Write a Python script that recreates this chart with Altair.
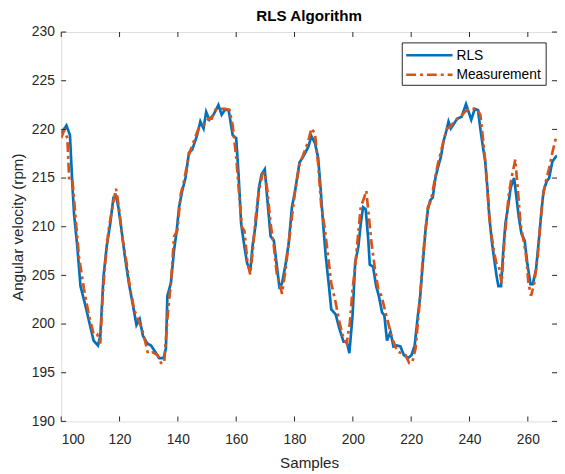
import altair as alt
import pandas as pd

# RLS estimate
rls_x = [100.0, 101.8, 103.0, 103.8, 104.4, 105.5, 106.6, 108.3, 110.0, 111.1, 112.6, 113.4, 114.5, 115.6,
         116.8, 117.9, 118.7, 119.6, 120.7, 121.8, 123.2, 124.6, 125.8, 126.9, 128.0, 129.5, 130.8, 132.3,
         133.6, 135.1, 135.9, 136.4, 137.6, 138.7, 139.6, 140.4, 141.5, 142.6, 143.8, 144.9, 146.6, 147.7,
         148.8, 149.7, 150.8, 152.2, 153.9, 155.0, 156.1, 157.4, 158.8, 160.0, 160.8, 161.7, 162.8, 163.7,
         164.8, 165.6, 166.7, 167.8, 168.7, 169.8, 170.7, 171.8, 172.9, 173.8, 174.9, 175.7, 176.8, 178.0,
         179.1, 180.2, 181.7, 183.0, 184.7, 185.8, 187.0, 188.1, 189.0, 189.8, 190.7, 191.8, 192.6, 194.1,
         195.4, 196.8, 197.9, 198.8, 199.9, 200.8, 201.9, 202.7, 203.5, 204.4, 205.3, 205.8, 206.9, 208.0,
         208.9, 210.0, 210.8, 211.7, 212.9, 213.9, 215.0, 216.3, 217.5, 218.9, 220.1, 221.2, 222.3, 223.1,
         224.0, 224.9, 225.7, 226.5, 227.4, 228.3, 229.1, 230.2, 231.1, 232.1, 232.8, 233.6, 234.7, 235.8,
         237.3, 238.1, 238.8, 239.7, 240.6, 241.8, 242.9, 243.7, 244.5, 245.4, 246.2, 246.8, 247.6, 248.5,
         249.3, 249.9, 250.8, 251.6, 252.3, 253.2, 254.1, 255.3, 256.1, 256.9, 257.8, 258.9, 259.8, 260.9,
         261.7, 262.8, 263.9, 264.7, 265.4, 266.5, 267.3, 268.4, 269.6, 270.0]
rls_y = [219.6, 220.4, 219.4, 214.4, 211.3, 208.0, 203.9, 201.9, 199.7, 198.3, 197.8, 198.8, 204.9, 208.0,
         210.3, 213.0, 213.2, 212.0, 209.6, 207.0, 204.2, 201.9, 199.9, 200.5, 198.8, 198.0, 197.8, 197.1,
         196.5, 196.5, 197.5, 202.9, 204.2, 207.6, 209.6, 212.0, 213.7, 215.0, 217.6, 217.9, 219.4, 220.8,
         220.1, 221.8, 221.0, 221.5, 222.5, 221.5, 222.0, 222.0, 219.4, 219.1, 215.4, 210.3, 208.0, 206.3,
         205.4, 208.0, 210.3, 214.0, 215.4, 215.9, 212.7, 209.0, 208.6, 206.3, 203.6, 204.2, 205.9, 208.3,
         212.0, 213.7, 216.6, 217.2, 218.2, 219.3, 218.6, 217.1, 213.7, 210.3, 207.0, 203.9, 201.5, 201.0,
         199.5, 198.2, 198.2, 197.0, 200.9, 206.3, 208.0, 210.3, 212.0, 211.8, 208.6, 206.1, 205.9, 203.9,
         202.9, 201.2, 200.9, 198.3, 199.2, 197.7, 197.8, 197.7, 196.8, 196.5, 196.8, 197.8, 200.9, 202.9,
         206.3, 209.6, 211.7, 212.7, 213.0, 215.0, 216.0, 217.2, 218.8, 219.9, 220.8, 220.1, 220.6, 221.1,
         221.3, 222.0, 222.6, 221.8, 221.0, 222.1, 222.0, 220.1, 218.4, 216.7, 213.7, 211.0, 208.6, 206.6,
         204.9, 203.9, 203.9, 207.6, 210.3, 212.0, 214.0, 215.0, 213.0, 211.0, 209.3, 208.6, 206.3, 204.1,
         204.1, 205.6, 209.0, 211.7, 213.7, 214.7, 215.0, 216.7, 217.2, 217.3]

meas_x = [100.0, 101.0, 102.1, 102.7, 103.8, 104.9, 106.1, 107.8, 109.5, 111.1, 112.3, 113.4, 114.2, 115.1,
          116.2, 117.7, 118.8, 119.8, 120.9, 122.4, 123.5, 125.0, 126.3, 127.7, 128.8, 129.7, 131.4, 133.1,
          134.2, 135.3, 136.5, 137.6, 138.7, 139.8, 141.0, 142.1, 143.8, 145.5, 147.1, 148.8, 150.5, 151.6,
          152.8, 154.5, 156.1, 157.7, 158.8, 160.0, 161.1, 161.9, 162.8, 163.9, 164.8, 165.6, 166.7, 167.8,
          169.0, 169.8, 170.7, 171.8, 172.9, 174.0, 174.9, 175.7, 176.8, 178.0, 179.1, 180.2, 181.7, 183.0,
          184.7, 185.8, 187.0, 188.1, 189.2, 190.3, 191.5, 192.6, 194.1, 195.4, 196.8, 197.9, 199.0, 199.9,
          200.8, 201.6, 202.7, 203.9, 204.6, 205.5, 206.4, 207.6, 208.7, 209.8, 211.2, 212.3, 213.2, 213.9,
          215.2, 216.7, 218.1, 219.3, 220.4, 221.5, 222.3, 223.1, 224.0, 224.9, 225.7, 226.8, 228.0, 229.1,
          230.2, 231.3, 232.4, 233.5, 234.7, 235.8, 236.9, 238.4, 239.7, 241.1, 242.6, 243.7, 244.5, 245.4,
          246.2, 246.8, 247.6, 248.5, 249.3, 250.1, 251.0, 251.9, 252.7, 253.5, 254.4, 255.7, 256.6, 257.5,
          258.7, 259.4, 260.2, 261.1, 262.2, 263.4, 264.3, 265.1, 266.2, 267.3, 268.4, 269.6, 270.0]
meas_y = [219.1, 219.9, 219.1, 215.0, 215.0, 211.0, 206.9, 203.6, 200.9, 199.0, 199.0, 198.0, 202.9, 206.3,
          209.6, 212.3, 213.9, 212.0, 209.0, 206.3, 203.9, 201.5, 200.5, 199.5, 198.2, 197.0, 197.1, 196.8,
          196.0, 196.0, 200.9, 204.2, 209.0, 209.6, 213.4, 214.7, 217.4, 218.8, 220.1, 220.4, 221.1, 221.1,
          222.0, 222.1, 222.1, 222.0, 220.4, 217.1, 213.0, 210.0, 209.6, 206.3, 205.1, 207.3, 211.0, 213.7,
          215.4, 215.6, 213.7, 210.3, 208.0, 204.9, 204.2, 203.1, 205.3, 208.3, 211.0, 213.7, 216.4, 217.4,
          218.8, 220.1, 219.6, 216.4, 212.0, 210.0, 207.0, 204.2, 202.2, 200.2, 198.5, 198.0, 200.2, 203.6,
          205.9, 208.6, 212.0, 213.0, 213.7, 211.0, 208.3, 205.6, 203.6, 202.9, 201.2, 199.9, 198.8, 198.2,
          197.2, 197.0, 196.8, 196.0, 196.1, 197.5, 200.2, 202.9, 206.9, 209.6, 212.0, 212.7, 214.7, 216.4,
          217.7, 219.1, 220.1, 220.3, 220.8, 221.1, 221.3, 221.8, 222.1, 222.1, 222.1, 221.5, 219.4, 216.7,
          213.4, 211.0, 209.0, 207.3, 206.1, 205.9, 204.2, 208.3, 211.0, 213.4, 215.0, 216.9, 213.7, 210.3,
          208.3, 207.0, 204.2, 202.9, 204.2, 207.0, 210.3, 213.0, 214.7, 216.0, 217.6, 219.1, 219.2]

series_names = ["RLS", "Measurement"]
series_colors = ["#0072BD", "#D95319"]
x_ticks = [100, 120, 140, 160, 180, 200, 220, 240, 260]
y_ticks = [190, 195, 200, 205, 210, 215, 220, 225, 230]

rls_df = pd.DataFrame({"Samples": rls_x, "Value": rls_y, "ord": range(len(rls_x))})
meas_df = pd.DataFrame({"Samples": meas_x, "Value": meas_y, "ord": range(len(meas_x))})
xt = pd.DataFrame({"t": x_ticks})
yt = pd.DataFrame({"t": y_ticks})

W, H = 503, 395
FONT = "Liberation Sans"
AX = "#262626"
LW = 2.7
DASH = [10, 4, 3, 4]

xscale = alt.Scale(domain=[100, 270], nice=False, zero=False)
yscale = alt.Scale(domain=[190, 230], nice=False, zero=False)

xaxis = alt.Axis(values=x_ticks, title="Samples", grid=False, ticks=False, domain=False,
                 labelFontSize=14, titleFontSize=15.4, labelFont=FONT, titleFont=FONT,
                 labelColor=AX, titleColor=AX, titleFontWeight="normal", labelPadding=11, titlePadding=10)
yaxis = alt.Axis(values=y_ticks, title="Angular velocity (rpm)", grid=False, ticks=False, domain=False,
                 labelFontSize=14, titleFontSize=15.4, labelFont=FONT, titleFont=FONT,
                 labelColor=AX, titleColor=AX, titleFontWeight="normal", labelPadding=7, titlePadding=6)

rls = alt.Chart(rls_df).mark_line(strokeWidth=LW, clip=True, color=series_colors[0]).encode(
    x=alt.X("Samples:Q", scale=xscale, axis=xaxis),
    y=alt.Y("Value:Q", scale=yscale, axis=yaxis),
    order="ord:Q")
meas = alt.Chart(meas_df).mark_line(strokeWidth=LW, clip=True, color=series_colors[1], strokeDash=DASH).encode(
    x=alt.X("Samples:Q", scale=xscale),
    y=alt.Y("Value:Q", scale=yscale),
    order="ord:Q")

tk = dict(color=AX, strokeWidth=1)
xt_bot = alt.Chart(xt).mark_rule(**tk).encode(x=alt.X("t:Q", scale=xscale), y=alt.value(H), y2=alt.value(H - 5))
xt_top = alt.Chart(xt).mark_rule(**tk).encode(x=alt.X("t:Q", scale=xscale), y=alt.value(0), y2=alt.value(5))
yt_left = alt.Chart(yt).mark_rule(**tk).encode(y=alt.Y("t:Q", scale=yscale), x=alt.value(0), x2=alt.value(5))
yt_right = alt.Chart(yt).mark_rule(**tk).encode(y=alt.Y("t:Q", scale=yscale), x=alt.value(W), x2=alt.value(W - 5))

# legend box
one = pd.DataFrame({"name": [series_names[0]]})
two = pd.DataFrame({"name": [series_names[1]]})
leg_box = alt.Chart(one).mark_rect(fill="white", stroke=AX, strokeWidth=1).encode(
    x=alt.value(346), x2=alt.value(492), y=alt.value(11), y2=alt.value(54))
leg_l1 = alt.Chart(one).mark_rule(color=series_colors[0], strokeWidth=LW).encode(
    x=alt.value(350), x2=alt.value(397), y=alt.value(23.5))
leg_l2 = alt.Chart(two).mark_rule(color=series_colors[1], strokeWidth=LW, strokeDash=DASH).encode(
    x=alt.value(350), x2=alt.value(397), y=alt.value(43.3))
tprops = dict(align="left", baseline="middle", fontSize=14, font=FONT, color="#000000")
leg_t1 = alt.Chart(one).mark_text(**tprops).encode(x=alt.value(401), y=alt.value(24), text="name:N")
leg_t2 = alt.Chart(two).mark_text(**tprops).encode(x=alt.value(401), y=alt.value(43.8), text="name:N")

chart = alt.layer(rls, meas, xt_bot, xt_top, yt_left, yt_right,
                  leg_box, leg_l1, leg_l2, leg_t1, leg_t2).properties(
    width=W, height=H,
    title=alt.TitleParams("RLS Algorithm", font=FONT, fontSize=15.4, fontWeight="bold", color="#000000",
                          anchor="middle", offset=1),
    autosize=alt.AutoSizeParams(type="none"),
    padding={"left": 54, "top": 21, "right": 0, "bottom": 52},
).configure_view(stroke=AX, strokeWidth=1).configure(background="white")

chart.save("out.html", embed_options={"renderer": "svg", "actions": False})
